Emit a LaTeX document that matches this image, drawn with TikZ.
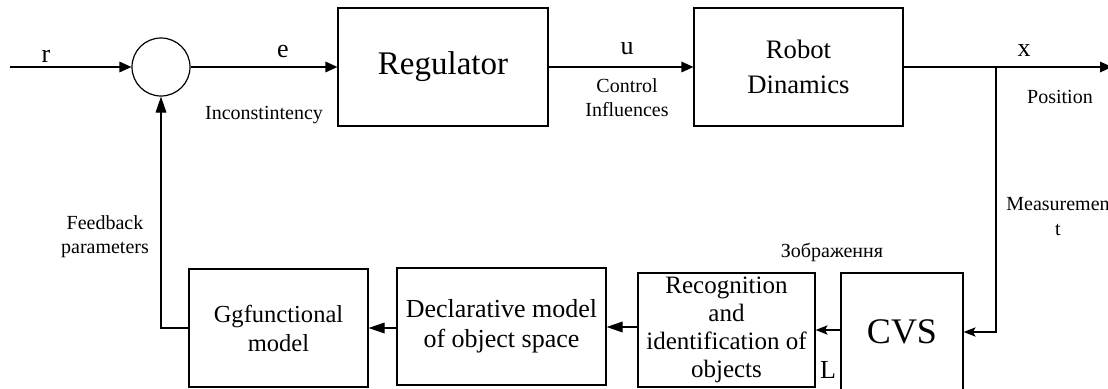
\documentclass[tikz,border=0pt]{standalone}
\usepackage{fontspec}
\setmainfont{Liberation Serif}
\usetikzlibrary{arrows.meta}
\tikzset{
  blk/.style={draw, line width=0.9pt, inner sep=0pt, align=center},
  sumnode/.style={draw, circle, line width=0.9pt, minimum size=43.5pt, inner sep=0pt},
  conn/.style={line width=0.9pt},
  arrtop/.style={conn, -{Triangle[length=9pt,width=8pt]}},
  arrlong/.style={conn, -{Triangle[length=12pt,width=8pt]}},
  arrthin/.style={conn, -{Stealth[length=9pt,width=7pt,inset=2pt]}},
  siglbl/.style={anchor=base, font=\fontsize{19.5pt}{23pt}\selectfont, inner sep=0pt},
  smalllbl/.style={anchor=base, align=center, font=\fontsize{15pt}{18pt}\selectfont, inner sep=0pt},
}
\begin{document}
\begin{tikzpicture}[x=0.75pt,y=-0.75pt]
\useasboundingbox (0,0) rectangle (1108,389);
\clip (0,0) rectangle (1108,389);
% blocks
\node[sumnode] (sum) at (161,67) {};
\node[blk, minimum width=157.5pt, minimum height=88.5pt, font=\fontsize{24.75pt}{30pt}\selectfont] (reg) at (443,67) {Regulator};
\node[blk, minimum width=156.75pt, minimum height=88.5pt, font=\fontsize{20pt}{26pt}\selectfont] (rob) at (798.5,67) {Robot\\Dinamics};
\node[blk, minimum width=91.5pt, minimum height=88.5pt, font=\fontsize{27pt}{32pt}\selectfont] (cvs) at (902,332) {CVS};
\node[blk, minimum width=132.75pt, minimum height=85.5pt, font=\fontsize{18.75pt}{21pt}\selectfont] (rec) at (726.5,330) {Recognition\\and\\identification of\\objects};
\node[blk, minimum width=156.75pt, minimum height=87.75pt, font=\fontsize{19.5pt}{22.5pt}\selectfont] (dec) at (501.5,326.5) {Declarative model\\of object space};
\node[blk, minimum width=134.25pt, minimum height=88.5pt, font=\fontsize{18.4pt}{21.75pt}\selectfont] (gg) at (278.5,328) {Ggfunctional\\model};
% free ends
\coordinate (rin) at (10,67);
\coordinate (xout) at (1112,67);
\coordinate (br) at (996,67);
\coordinate (brd) at (996,332);
\coordinate (fb) at (161,328);
% connectors
\draw[arrtop] (rin) -- (sum.west);
\draw[arrtop] (sum.east) -- (reg.west);
\draw[arrtop] (reg.east) -- (rob.west);
\draw[arrtop] (rob.east) -- (xout);
\draw[arrthin] (br) -- (brd) -- (cvs.east);
\draw[arrthin] (cvs.west |- 0,330) -- (rec.east |- 0,330);
\draw[arrlong] (rec.west |- 0,327) -- (dec.east |- 0,327);
\draw[arrlong] (dec.west |- 0,328) -- (gg.east |- 0,328);
\draw[arrlong] (gg.west |- 0,328) -- (fb) -- (sum.south);
% labels
\node[siglbl] (lr) at (46,62) {r};
\node[siglbl] (le) at (283,57) {e};
\node[siglbl] (lu) at (627,55) {u};
\node[siglbl] (lx) at (1024,56) {x};
\node[siglbl] (lL) at (828,378) {L};
\node[smalllbl] (linc) at (264,119) {Inconstintency};
\node[smalllbl] (lci) at (627,116) {Control\\Influences};
\node[smalllbl] (lpos) at (1060,103) {Position};
\node[smalllbl, font=\fontsize{15pt}{18.75pt}\selectfont] (lmeas) at (1058,235) {Measuremen\\t};
\node[smalllbl] (limg) at (832,257) {Зображення};
\node[smalllbl] (lfb) at (105,253) {Feedback\\parameters};
\end{tikzpicture}
\end{document}
